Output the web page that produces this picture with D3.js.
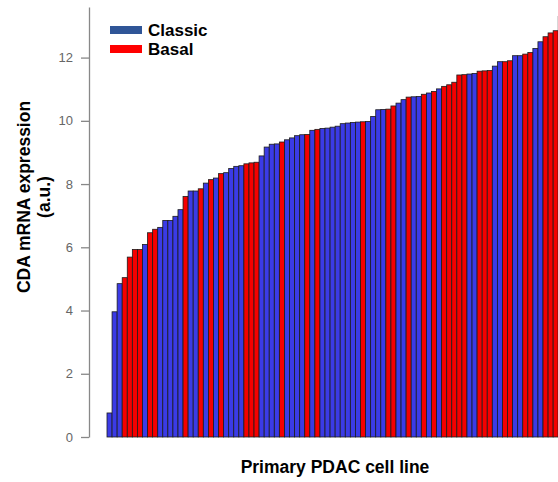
<!DOCTYPE html>
<html>
<head>
<meta charset="utf-8">
<script src="https://cdn.jsdelivr.net/npm/d3@7"></script>
<style>
  body { margin: 0; background: #fff; }
  svg { display: block; font-family: "Liberation Sans", Arial, sans-serif; }
  .axis-title { font-weight: bold; fill: #000; }
</style>
</head>
<body>
<svg id="bar-chart"></svg>
<script>
// CDA expression per cell line, already sorted ascending
const expression = [
  0.76, 3.96, 4.85, 5.04, 5.69, 5.93, 5.93, 6.09, 6.46, 6.57,
  6.63, 6.85, 6.85, 6.98, 7.19, 7.61, 7.78, 7.78, 7.85, 8.03,
  8.14, 8.19, 8.33, 8.36, 8.49, 8.56, 8.58, 8.64, 8.67, 8.69,
  8.89, 9.17, 9.26, 9.27, 9.33, 9.40, 9.46, 9.53, 9.56, 9.57,
  9.70, 9.73, 9.76, 9.77, 9.80, 9.83, 9.91, 9.93, 9.95, 9.96,
  9.97, 9.98, 10.14, 10.35, 10.36, 10.37, 10.47, 10.56, 10.67, 10.75,
  10.76, 10.77, 10.84, 10.88, 10.93, 11.01, 11.09, 11.14, 11.22, 11.45,
  11.46, 11.48, 11.50, 11.57, 11.58, 11.59, 11.73, 11.87, 11.87, 11.90,
  12.06, 12.06, 12.11, 12.16, 12.29, 12.50, 12.66, 12.78, 12.85, 13.3
];

// subtype of each cell line, same order (C = Classic, B = Basal)
const subtype = [
  'C','C','C','B','B','B','B','C','B','B',
  'C','C','C','C','C','B','C','C','B','C',
  'B','C','B','C','C','C','C','B','B','B',
  'C','C','C','C','B','C','C','C','C','B',
  'C','B','C','C','C','C','C','C','C','C',
  'B','C','C','C','C','B','B','C','C','B',
  'C','C','B','C','B','C','B','B','B','B',
  'B','C','C','B','B','B','C','C','B','B',
  'C','C','B','B','C','C','B','B','B','B'
];

const legendItems = ['Classic', 'Basal'];
const yTicks = [0, 2, 4, 6, 8, 10, 12];

const config = {
  width: 558,
  height: 482,
  barLeft: 107,
  barStep: 5.07,
  axisX: 89,
  yTop: 7,
  yBottom: 437
};

const barColor = { C: '#3b3be6', B: '#f50000' };
const legendColor = { Classic: '#2f5597', Basal: '#ff0000' };

const data = expression.map((v, i) => ({ id: i, value: v, type: subtype[i] }));

const svg = d3.select('#bar-chart')
  .attr('width', config.width)
  .attr('height', config.height);

// scales
const xScale = d3.scaleBand()
  .domain(data.map(d => d.id))
  .range([config.barLeft, config.barLeft + data.length * config.barStep])
  .padding(0);

const yScale = d3.scaleLinear()
  .domain([0, 13.6])
  .range([config.yBottom, config.yTop]);

// bars
svg.append('g')
  .selectAll('rect')
  .data(data)
  .join('rect')
    .attr('x', d => xScale(d.id))
    .attr('y', d => yScale(d.value))
    .attr('width', xScale.bandwidth())
    .attr('height', d => yScale(0) - yScale(d.value))
    .attr('fill', d => barColor[d.type])
    .attr('stroke', '#1c1c1c')
    .attr('stroke-width', 0.8);

// y axis
const yAxis = d3.axisLeft(yScale)
  .tickValues(yTicks)
  .tickSize(8)
  .tickPadding(8)
  .tickSizeOuter(0);

const yAxisG = svg.append('g')
  .attr('transform', `translate(${config.axisX},0)`)
  .call(yAxis);

yAxisG.select('.domain').attr('stroke', '#888').attr('stroke-width', 1.3);
yAxisG.selectAll('.tick line').attr('stroke', '#888').attr('stroke-width', 1.3);
yAxisG.selectAll('.tick text')
  .attr('fill', '#666')
  .style('font-size', '13px')
  .style('font-family', '"Liberation Sans", Arial, sans-serif');

// axis titles
svg.append('text')
  .attr('class', 'axis-title')
  .attr('x', 335)
  .attr('y', 473)
  .attr('text-anchor', 'middle')
  .style('font-size', '17.5px')
  .text('Primary PDAC cell line');

const yTitle = svg.append('text')
  .attr('class', 'axis-title')
  .attr('transform', 'translate(0,197) rotate(-90)')
  .attr('text-anchor', 'middle')
  .style('font-size', '17.5px');
yTitle.append('tspan').attr('x', 0).attr('y', 30).text('CDA mRNA expression');
yTitle.append('tspan').attr('x', 0).attr('y', 50).text('(a.u.)');

// legend
const legend = svg.append('g')
  .selectAll('g')
  .data(legendItems)
  .join('g')
    .attr('transform', (d, i) => `translate(110,${26 + i * 19})`);

legend.append('rect')
  .attr('width', 32)
  .attr('height', 8)
  .attr('fill', d => legendColor[d]);

legend.append('text')
  .attr('x', 38)
  .attr('y', 10)
  .style('font-size', '17px')
  .style('font-weight', 'bold')
  .text(d => d);
</script>
</body>
</html>
